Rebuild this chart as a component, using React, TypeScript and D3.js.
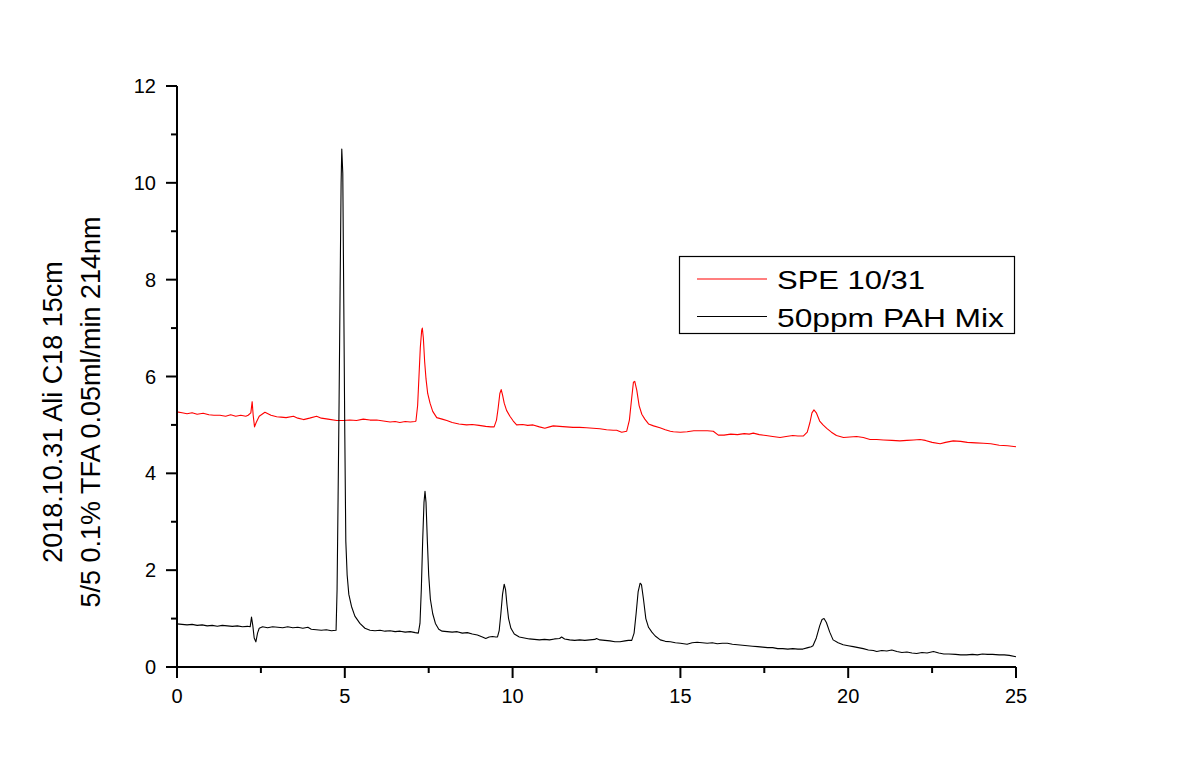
import React, { useEffect } from "react";
import * as d3 from "d3";

// ---- data: [time (min), signal] ----
const speTrace: [number, number][] = [
  [0, 5.27], [0.15, 5.25], [0.3, 5.23], [0.45, 5.25], [0.6, 5.22], [0.78, 5.24], [0.95, 5.21], [1.1, 5.2],
  [1.28, 5.2], [1.45, 5.18], [1.6, 5.21], [1.75, 5.18], [1.9, 5.2], [2.05, 5.18], [2.12, 5.2], [2.2, 5.25],
  [2.24, 5.48], [2.27, 5.2], [2.31, 4.96], [2.36, 5.05], [2.45, 5.18], [2.62, 5.26], [2.8, 5.2], [2.97, 5.17],
  [3.1, 5.16], [3.25, 5.15], [3.47, 5.18], [3.6, 5.14], [3.77, 5.11], [3.95, 5.14], [4.16, 5.18], [4.3, 5.14],
  [4.5, 5.12], [4.76, 5.09], [4.95, 5.09], [5.15, 5.1], [5.35, 5.09], [5.55, 5.12], [5.75, 5.1], [5.95, 5.1],
  [6.15, 5.08], [6.35, 5.06], [6.5, 5.07], [6.64, 5.05], [6.8, 5.07], [6.95, 5.06], [7.09, 5.07], [7.12, 5.08],
  [7.17, 5.4], [7.21, 6.0], [7.25, 6.6], [7.29, 6.95], [7.31, 7.0], [7.34, 6.8], [7.38, 6.3], [7.42, 5.95],
  [7.47, 5.65], [7.54, 5.45], [7.62, 5.28], [7.74, 5.15], [7.9, 5.12], [8.04, 5.09], [8.2, 5.05], [8.4, 5.02],
  [8.63, 5.0], [8.8, 5.01], [9.0, 4.99], [9.2, 4.97], [9.35, 4.96], [9.45, 4.96], [9.52, 5.1], [9.57, 5.35],
  [9.62, 5.65], [9.66, 5.73], [9.7, 5.62], [9.75, 5.45], [9.82, 5.3], [9.92, 5.18], [10.02, 5.08], [10.12, 5.0],
  [10.3, 5.01], [10.45, 4.99], [10.61, 5.0], [10.8, 4.96], [10.96, 4.93], [11.1, 4.96], [11.21, 4.98],
  [11.4, 4.97], [11.6, 4.96], [11.8, 4.95], [12.0, 4.95], [12.2, 4.94], [12.4, 4.93], [12.6, 4.92],
  [12.8, 4.9], [13.0, 4.89], [13.1, 4.89], [13.25, 4.85], [13.4, 4.87], [13.48, 5.1], [13.54, 5.5],
  [13.6, 5.88], [13.64, 5.9], [13.7, 5.72], [13.77, 5.4], [13.85, 5.22], [13.94, 5.12], [14.05, 5.02],
  [14.2, 4.98], [14.39, 4.94], [14.55, 4.9], [14.7, 4.87], [14.79, 4.86], [15.0, 4.85], [15.2, 4.86],
  [15.4, 4.88], [15.58, 4.88], [15.8, 4.88], [15.98, 4.87], [16.13, 4.79], [16.3, 4.79], [16.5, 4.81],
  [16.7, 4.8], [16.9, 4.82], [17.05, 4.81], [17.17, 4.83], [17.35, 4.8], [17.55, 4.78], [17.75, 4.76],
  [17.97, 4.74], [18.15, 4.76], [18.35, 4.78], [18.5, 4.77], [18.66, 4.77], [18.78, 4.85], [18.86, 5.05],
  [18.92, 5.25], [18.98, 5.31], [19.05, 5.25], [19.15, 5.08], [19.25, 5.0], [19.36, 4.93], [19.5, 4.85],
  [19.65, 4.78], [19.86, 4.74], [20.05, 4.75], [20.25, 4.76], [20.45, 4.74], [20.65, 4.7], [20.85, 4.7],
  [21.05, 4.69], [21.3, 4.68], [21.54, 4.67], [21.75, 4.68], [21.95, 4.69], [22.14, 4.7], [22.3, 4.68],
  [22.5, 4.64], [22.74, 4.61], [22.9, 4.64], [23.13, 4.67], [23.35, 4.66], [23.55, 4.64], [23.8, 4.63],
  [24.03, 4.62], [24.25, 4.61], [24.5, 4.58], [24.75, 4.57], [25.0, 4.55],
];

const pahTrace: [number, number][] = [
  [0, 0.89], [0.15, 0.88], [0.3, 0.87], [0.45, 0.88], [0.6, 0.86], [0.75, 0.87], [0.9, 0.85], [1.05, 0.86],
  [1.2, 0.84], [1.35, 0.86], [1.5, 0.85], [1.65, 0.84], [1.8, 0.85], [1.95, 0.83], [2.1, 0.84], [2.18, 0.83],
  [2.22, 1.03], [2.26, 0.85], [2.3, 0.6], [2.35, 0.52], [2.4, 0.7], [2.45, 0.8], [2.55, 0.83], [2.7, 0.81],
  [2.85, 0.83], [3.0, 0.82], [3.15, 0.81], [3.3, 0.83], [3.45, 0.81], [3.6, 0.82], [3.75, 0.8], [3.9, 0.82],
  [4.0, 0.78], [4.15, 0.77], [4.3, 0.76], [4.45, 0.77], [4.6, 0.75], [4.74, 0.76], [4.77, 1.6], [4.8, 3.5],
  [4.83, 5.5], [4.86, 7.8], [4.89, 10.0], [4.91, 10.7], [4.94, 10.2], [4.97, 7.5], [5.0, 4.8], [5.03, 2.6],
  [5.07, 1.9], [5.12, 1.5], [5.2, 1.25], [5.3, 1.05], [5.45, 0.9], [5.6, 0.8], [5.75, 0.76], [5.9, 0.75],
  [6.05, 0.76], [6.2, 0.74], [6.35, 0.75], [6.5, 0.73], [6.65, 0.74], [6.8, 0.72], [6.95, 0.73], [7.1, 0.71],
  [7.19, 0.7], [7.24, 0.9], [7.28, 1.6], [7.32, 2.6], [7.36, 3.4], [7.39, 3.63], [7.42, 3.4], [7.46, 2.6],
  [7.5, 1.9], [7.55, 1.4], [7.62, 1.1], [7.7, 0.9], [7.8, 0.78], [7.9, 0.74], [8.05, 0.73], [8.2, 0.72],
  [8.35, 0.73], [8.5, 0.7], [8.65, 0.71], [8.8, 0.68], [8.95, 0.66], [9.1, 0.62], [9.2, 0.59], [9.3, 0.62],
  [9.4, 0.63], [9.5, 0.62], [9.55, 0.62], [9.6, 0.75], [9.65, 1.1], [9.7, 1.5], [9.75, 1.71], [9.79, 1.6],
  [9.83, 1.3], [9.88, 1.0], [9.95, 0.8], [10.05, 0.68], [10.2, 0.62], [10.35, 0.6], [10.5, 0.58],
  [10.65, 0.57], [10.8, 0.56], [10.95, 0.57], [11.1, 0.56], [11.25, 0.58], [11.4, 0.59], [11.46, 0.62],
  [11.55, 0.58], [11.7, 0.56], [11.85, 0.55], [12.0, 0.56], [12.15, 0.55], [12.3, 0.56], [12.45, 0.57],
  [12.5, 0.59], [12.6, 0.56], [12.75, 0.55], [12.9, 0.54], [13.05, 0.52], [13.2, 0.52], [13.35, 0.54],
  [13.45, 0.55], [13.55, 0.55], [13.62, 0.7], [13.68, 1.1], [13.74, 1.55], [13.8, 1.73], [13.84, 1.7],
  [13.9, 1.4], [13.97, 1.0], [14.05, 0.82], [14.15, 0.72], [14.25, 0.64], [14.4, 0.56], [14.55, 0.53],
  [14.7, 0.52], [14.85, 0.5], [15.0, 0.49], [15.2, 0.47], [15.35, 0.5], [15.5, 0.51], [15.65, 0.5],
  [15.8, 0.49], [15.95, 0.5], [16.1, 0.48], [16.25, 0.49], [16.4, 0.49], [16.55, 0.47], [16.7, 0.46],
  [16.85, 0.45], [17.0, 0.44], [17.15, 0.43], [17.3, 0.42], [17.45, 0.41], [17.6, 0.4], [17.75, 0.4],
  [17.9, 0.38], [18.05, 0.38], [18.2, 0.37], [18.35, 0.38], [18.5, 0.37], [18.65, 0.37], [18.8, 0.4],
  [18.9, 0.42], [18.95, 0.44], [19.05, 0.6], [19.15, 0.85], [19.22, 0.98], [19.28, 1.0], [19.35, 0.92],
  [19.45, 0.72], [19.55, 0.56], [19.7, 0.5], [19.85, 0.46], [20.0, 0.44], [20.15, 0.42], [20.3, 0.4],
  [20.45, 0.38], [20.6, 0.35], [20.75, 0.34], [20.85, 0.32], [21.0, 0.34], [21.15, 0.33], [21.3, 0.35],
  [21.45, 0.32], [21.6, 0.3], [21.75, 0.31], [21.9, 0.29], [22.04, 0.28], [22.2, 0.3], [22.35, 0.29],
  [22.54, 0.32], [22.7, 0.29], [22.85, 0.27], [23.0, 0.27], [23.2, 0.26], [23.35, 0.25], [23.53, 0.25],
  [23.7, 0.26], [23.85, 0.25], [24.0, 0.27], [24.15, 0.26], [24.3, 0.26], [24.5, 0.25], [24.65, 0.25],
  [24.8, 0.24], [25.0, 0.21],
];

const seriesNames = ["SPE 10/31", "50ppm PAH Mix"];
const seriesColors = ["#ff0000", "#000000"];
const xMajorTicks = [0, 5, 10, 15, 20, 25];
const xMinorTicks = [2.5, 7.5, 12.5, 17.5, 22.5];
const yMajorTicks = [0, 2, 4, 6, 8, 10, 12];
const yMinorTicks = [1, 3, 5, 7, 9, 11];
const yTitleLines = ["2018.10.31 Ali C18 15cm", "5/5 0.1% TFA 0.05ml/min 214nm"];

const FONT = "'Liberation Sans', Arial, Helvetica, sans-serif";

export default function App() {
  useEffect(() => {
    document.body.style.margin = "0";
  }, []);

  const x = d3.scaleLinear().domain([0, 25]).range([177, 1016]);
  const y = d3.scaleLinear().domain([0, 12]).range([667, 86]);
  const line = d3
    .line<[number, number]>()
    .x((d) => x(d[0]))
    .y((d) => y(d[1]));

  const traces = [speTrace, pahTrace];
  const legendTextLen = [148, 227];

  return (
    <svg width={1180} height={780} style={{ display: "block", background: "#fff" }} fontFamily={FONT}>
      <rect width={1180} height={780} fill="#fff" />
      {/* traces */}
      {traces.map((t, i) => (
        <path key={i} d={line(t) || ""} fill="none" stroke={seriesColors[i]} strokeWidth={1.1} strokeLinejoin="round" />
      ))}
      {/* axes */}
      <line x1={x(0)} x2={x(0)} y1={y(12)} y2={y(0) + 1} stroke="#000" strokeWidth={2} />
      <line x1={x(0) - 1} x2={x(25)} y1={y(0)} y2={y(0)} stroke="#000" strokeWidth={2} />
      {yMajorTicks.map((v) => (
        <g key={"ym" + v}>
          <line x1={x(0) - 11} x2={x(0)} y1={y(v)} y2={y(v)} stroke="#000" strokeWidth={2} />
          <text x={156} y={y(v)} dy="0.35em" textAnchor="end" fontSize={20} fill="#000">
            {v}
          </text>
        </g>
      ))}
      {yMinorTicks.map((v) => (
        <line key={"yn" + v} x1={x(0) - 6} x2={x(0)} y1={y(v)} y2={y(v)} stroke="#000" strokeWidth={2} />
      ))}
      {xMajorTicks.map((v) => (
        <g key={"xm" + v}>
          <line x1={x(v)} x2={x(v)} y1={y(0)} y2={y(0) + 11} stroke="#000" strokeWidth={2} />
          <text x={x(v)} y={703} textAnchor="middle" fontSize={20} fill="#000">
            {v}
          </text>
        </g>
      ))}
      {xMinorTicks.map((v) => (
        <line key={"xn" + v} x1={x(v)} x2={x(v)} y1={y(0)} y2={y(0) + 6} stroke="#000" strokeWidth={2} />
      ))}
      {/* y title */}
      {yTitleLines.map((s, i) => (
        <text
          key={s}
          transform={`translate(${62 + i * 38},412) rotate(-90)`}
          textAnchor="middle"
          fontSize={27}
          fill="#000"
        >
          {s}
        </text>
      ))}
      {/* legend */}
      <rect x={679.5} y={256.5} width={335} height={77} fill="#fff" stroke="#000" strokeWidth={1.2} />
      {seriesNames.map((s, i) => (
        <g key={s}>
          <line x1={697} x2={767} y1={279 + i * 37.5} y2={279 + i * 37.5} stroke={seriesColors[i]} strokeWidth={1.2} />
          <text
            x={777}
            y={288.5 + i * 38}
            fontSize={25}
            fill="#000"
            textLength={legendTextLen[i]}
            lengthAdjust="spacingAndGlyphs"
          >
            {s}
          </text>
        </g>
      ))}
    </svg>
  );
}
